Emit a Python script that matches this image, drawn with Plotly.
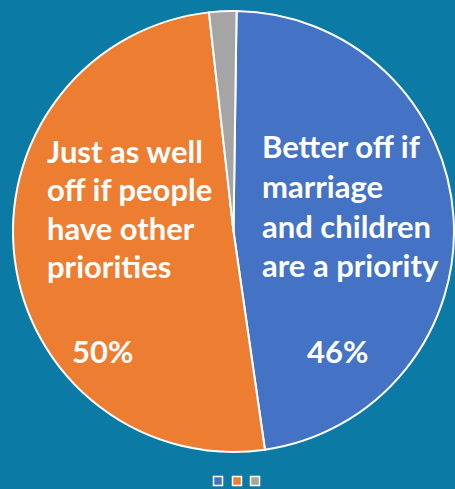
import plotly.graph_objects as go

W, H = 455, 489

# ---- data ----
categories = [
    "Better off if marriage and children are a priority",
    "Just as well off if people have other priorities",
    "No answer",
]
# slice shares as drawn in the picture
values = [47.5, 50.5, 2.0]
colors = ["#4472C4", "#ED7D31", "#A5A5A5"]

blue_lines = ["Better off if", "marriage", "and children", "are a priority"]
orange_lines = ["Just as well", "off if people", "have other", "priorities"]
pct_labels = ["46%", "50%"]

BG = "#0B7BA6"
FONT = "Lato"

fig = go.Figure()
fig.add_trace(go.Pie(
    labels=categories,
    values=values,
    sort=False,
    direction="clockwise",
    rotation=0.8,
    marker=dict(colors=colors, line=dict(color="white", width=2)),
    textinfo="none",
    hoverinfo="label",
    domain=dict(x=[13 / W, 454 / W], y=[1 - 455 / H, 1 - 8 / H]),
    showlegend=False,
))

# legend swatches (one small legend per category, laid out side by side)
legend_centers = [221, 240, 258]
legend_names = ["legend", "legend2", "legend3"]
for cat, col, ln in zip(categories, colors, legend_names):
    fig.add_trace(go.Scatter(
        x=[0], y=[0], mode="markers", name=" ",
        marker=dict(symbol="square", size=9, color=col,
                    line=dict(color="white", width=1.5)),
        legend=ln, showlegend=True, hoverinfo="skip",
    ))


def px(x):
    return x / W


def py(y):
    return 1 - y / H


annotations = []
for line, base in zip(blue_lines, [153, 193, 233, 272]):
    annotations.append(dict(x=px(260), y=py(base - 7), text=line, xanchor="left",
                            yanchor="middle", showarrow=False))
for line, base in zip(orange_lines, [158, 196, 235, 273]):
    annotations.append(dict(x=px(45), y=py(base - 7), text=line, xanchor="left",
                            yanchor="middle", showarrow=False))
annotations.append(dict(x=px(305), y=py(351), text=pct_labels[0], xanchor="left",
                        yanchor="middle", showarrow=False))
annotations.append(dict(x=px(70), y=py(351), text=pct_labels[1], xanchor="left",
                        yanchor="middle", showarrow=False))
for a in annotations:
    a["xref"] = "paper"
    a["yref"] = "paper"
    a["font"] = dict(family=FONT, size=31, color="white", weight="bold")

legend_layout = {}
for ln, cx in zip(legend_names, legend_centers):
    legend_layout[ln] = dict(
        x=cx / W, xanchor="center",
        y=1 - 481 / H, yanchor="middle",
        font=dict(size=2, color="rgba(0,0,0,0)"),
        itemwidth=30,
        bgcolor="rgba(0,0,0,0)",
        borderwidth=0,
    )

fig.update_layout(
    width=W, height=H,
    margin=dict(l=0, r=0, t=0, b=0, autoexpand=False),
    paper_bgcolor=BG,
    plot_bgcolor=BG,
    annotations=annotations,
    xaxis=dict(visible=False, range=[1, 2]),
    yaxis=dict(visible=False, range=[1, 2]),
    **legend_layout,
)

fig.write_html("out.html", config={"displayModeBar": False},
               post_script="document.body.style.margin='0px';")
